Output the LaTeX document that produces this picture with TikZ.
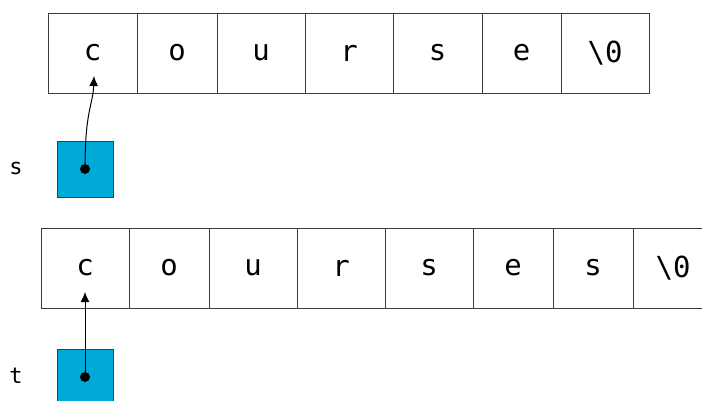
\documentclass[tikz,border=0pt]{standalone}
\usepackage{fontspec}
\setmonofont{DejaVu Sans Mono}
\usepackage{tikz}
\usetikzlibrary{arrows.meta,positioning}
\definecolor{Ptr}{HTML}{00A9D6}
\definecolor{Edge}{HTML}{3C3C3C}

\begin{document}
\begin{tikzpicture}[x=1pt,y=-1pt,
  cell/.style={draw=Edge,line width=0.9pt,inner sep=0pt,minimum height=80pt,font=\fontsize{29}{31}\selectfont\ttfamily},
  ptrbox/.style={draw=Edge,fill=Ptr,line width=0.9pt,minimum size=56pt,inner sep=0pt},
  var/.style={font=\fontsize{22}{24}\selectfont\ttfamily},
  dot/.style={circle,fill=black,inner sep=0pt,minimum size=10pt},
  ref/.style={-{Latex[length=10pt,width=9pt]},line width=1pt}]
  \useasboundingbox (0,0) rectangle (702,401);
  % the string "course" and its pointer s
  \foreach \l/\r/\ch [count=\i] in {48/137/c,137/217/o,217/305/u,305/393/r,393/482/s,482/561/e,561/649/\textbackslash 0}
    \node[cell,minimum width=\r-\l] (s\i) at ({(\l+\r)/2},53) {\ch};
  \node[ptrbox] (sbox) at (85,169) {};
  \node[dot] (sdot) at (sbox.center) {};
  \node[var] (slbl) at (16,168) {s};
  \coordinate (stip) at (94,76);
  \draw[ref] (sdot.center) .. controls (85,110) and (93,105) .. (stip);
  % the string "courses" and its pointer t
  \foreach \l/\r/\ch [count=\i] in {41/129/c,129/209/o,209/297/u,297/385/r,385/473/s,473/553/e,553/633/s,633/713/\textbackslash 0}
    \node[cell,minimum width=\r-\l] (t\i) at ({(\l+\r)/2},268) {\ch};
  \node[ptrbox] (tbox) at (85,377) {};
  \node[dot] (tdot) at (tbox.center) {};
  \node[var] (tlbl) at (16,376) {t};
  \coordinate (ttip) at (85,292);
  \draw[ref] (tdot.center) -- (ttip);
\end{tikzpicture}
\end{document}
